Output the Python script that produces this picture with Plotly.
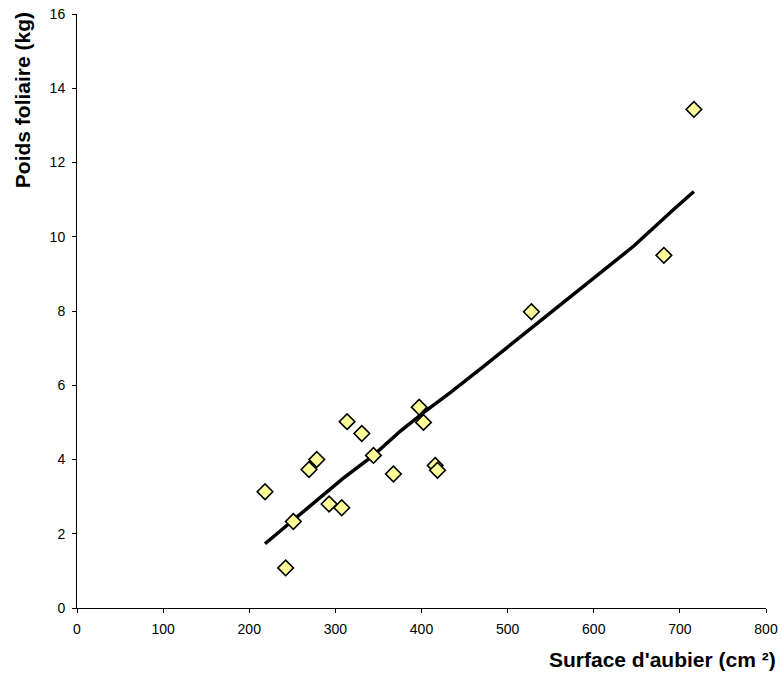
import plotly.graph_objects as go

# Observed data: sapwood area (cm²) vs foliage weight (kg)
surface = [218.3, 242.3, 251.2, 269.4, 278.4, 292.7, 307.4, 313.6, 330.7, 344.2,
           367.4, 397.3, 402.3, 415.9, 418.6, 527.6, 681.4, 716.3]
poids = [3.13, 1.08, 2.33, 3.73, 4.00, 2.80, 2.70, 5.02, 4.70, 4.11,
         3.61, 5.41, 5.00, 3.84, 3.71, 7.98, 9.50, 13.43]

# Fitted curve
fit_x = [218.3, 251.2, 282.2, 309.3, 344.2, 375.2, 402.3, 433.4, 472.1, 510.9,
         547.7, 646.5, 693.0, 716.3]
fit_y = [1.73, 2.36, 2.96, 3.50, 4.11, 4.76, 5.26, 5.80, 6.51, 7.23,
         7.91, 9.75, 10.74, 11.22]

x_ticks = [0, 100, 200, 300, 400, 500, 600, 700, 800]
y_ticks = [0, 2, 4, 6, 8, 10, 12, 14, 16]

FONT = "Liberation Sans, Arial, sans-serif"

fig = go.Figure()
fig.add_trace(go.Scatter(
    x=fit_x, y=fit_y, mode="lines",
    line=dict(color="black", width=3.5),
    showlegend=False, hoverinfo="skip",
))
fig.add_trace(go.Scatter(
    x=surface, y=poids, mode="markers",
    marker=dict(symbol="diamond", size=12, color="#FFFF99",
                line=dict(color="black", width=1.6)),
    showlegend=False,
))

fig.update_layout(
    width=783, height=673,
    margin=dict(l=77, r=17, t=14, b=65, autoexpand=False),
    paper_bgcolor="white", plot_bgcolor="white",
    font=dict(family=FONT, size=14, color="black"),
    xaxis=dict(range=[0, 800], tickvals=x_ticks, ticktext=[str(v) for v in x_ticks],
               showgrid=False, zeroline=False, showline=True, linecolor="black",
               linewidth=1, ticks="outside", ticklen=4, tickcolor="black",
               tickfont=dict(size=14), automargin=False, ticklabelstandoff=4),
    yaxis=dict(range=[0, 16], tickvals=y_ticks, ticktext=[str(v) for v in y_ticks],
               showgrid=False, zeroline=False, showline=True, linecolor="black",
               linewidth=1, ticks="outside", ticklen=4, tickcolor="black",
               tickfont=dict(size=14), automargin=False, ticklabelstandoff=4),
    annotations=[
        dict(text="<b>Surface d'aubier (cm ²)</b>", xref="paper", yref="paper",
             x=1.0174, y=-0.086, xanchor="right", yanchor="middle",
             showarrow=False, font=dict(family=FONT, size=21, color="black")),
        dict(text="<b>Poids foliaire (kg)</b>", xref="paper", yref="paper",
             x=-0.0798, y=0.855, xanchor="center", yanchor="middle", textangle=-90,
             showarrow=False, font=dict(family=FONT, size=21, color="black")),
    ],
)

fig.write_html("out.html")
